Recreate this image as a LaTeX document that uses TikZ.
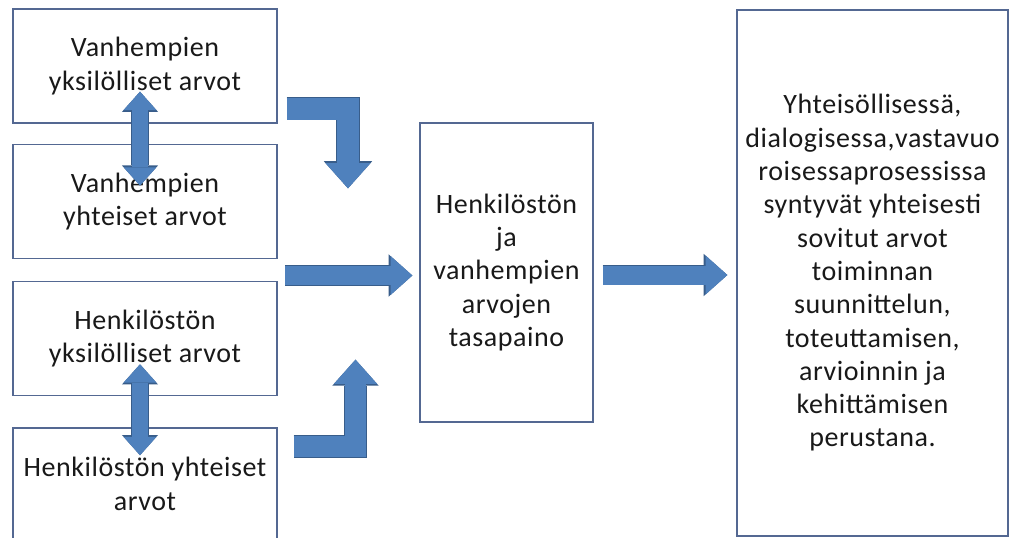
\documentclass[tikz,border=0pt]{standalone}
\usepackage{fontspec}
\setmainfont{Carlito}[LetterSpace=2]
\usetikzlibrary{positioning,arrows.meta}

\definecolor{boxline}{RGB}{84,104,146}
\definecolor{arrowfill}{RGB}{79,129,189}
\definecolor{arrowedge}{RGB}{56,93,138}

\tikzset{
  valuebox/.style={draw=boxline, line width=1.3pt, align=center, inner sep=0pt,
    font=\fontsize{28}{33.3}\selectfont, text=black!90},
  fat/.style={draw=arrowfill, line width=#1, ->,
    preaction={draw=arrowedge, line width=#1+1.6pt, ->}},
  fatboth/.style={draw=arrowfill, line width=#1, <->,
    preaction={draw=arrowedge, line width=#1+1.6pt, <->}},
}

\begin{document}
\begin{tikzpicture}[x=1pt, y=-1pt, node distance=20pt,
    >={Triangle[length=0pt 1.15, width=0pt 2.05, line width=0pt]}]
  \fill[white] (0,0) rectangle (1012,538);
  \useasboundingbox (0,0) rectangle (1012,538);

  % left column
  \node[valuebox, minimum width=264pt, minimum height=114pt] (vyks) at (145,66) {Vanhempien\\yksilölliset arvot};
  \node[valuebox, minimum width=264pt, minimum height=114pt] (vyht) [below=of vyks] {Vanhempien\\yhteiset arvot};
  \node[valuebox, minimum width=264pt, minimum height=114pt] (hyks) [below=22pt of vyht] {Henkilöstön\\yksilölliset arvot};
  \node[valuebox, minimum width=264pt, minimum height=112pt] (hyht) [below=31pt of hyks] {Henkilöstön yhteiset\\arvot};

  % middle and result
  \node[valuebox, minimum width=173pt, minimum height=299pt] (tasa) at (506.5,272.5) {Henkilöstön\\ja\\vanhempien\\arvojen\\tasapaino};
  \node[valuebox, minimum width=271pt, minimum height=526pt] (yhteiset) at (872.5,273)
    {Yhteisöllisessä,\\dialogisessa,vastavuo\\roisessaprosessissa\\syntyvät yhteisesti\\sovitut arvot\\toiminnan\\suunnittelun,\\toteuttamisen,\\arvioinnin ja\\kehittämisen\\perustana.};

  % block arrows
  \draw[fatboth=16pt] ([xshift=-5pt,yshift=32pt]vyks.south) -- ([xshift=-5pt,yshift=-42pt]vyht.north);
  \draw[fatboth=16pt] ([xshift=-5pt,yshift=32pt]hyks.south) -- ([xshift=-5pt,yshift=-28pt]hyht.north);
  \draw[fat=22pt] ([xshift=9pt,yshift=-42.5pt]vyks.east) -| ([xshift=-158.5pt,yshift=-66pt]tasa.north);
  \draw[fat=19pt] ([xshift=-134pt,yshift=-3pt]tasa.west) -- ([xshift=-7pt,yshift=-3pt]tasa.west);
  \draw[fat=21pt] ([xshift=16pt,yshift=37.5pt]hyht.east) -| ([xshift=-151pt,yshift=63pt]tasa.south);
  \draw[fat=19pt] ([xshift=9pt,yshift=-2.5pt]tasa.east) -- ([xshift=-9pt,yshift=-2pt]yhteiset.west);
\end{tikzpicture}
\end{document}
